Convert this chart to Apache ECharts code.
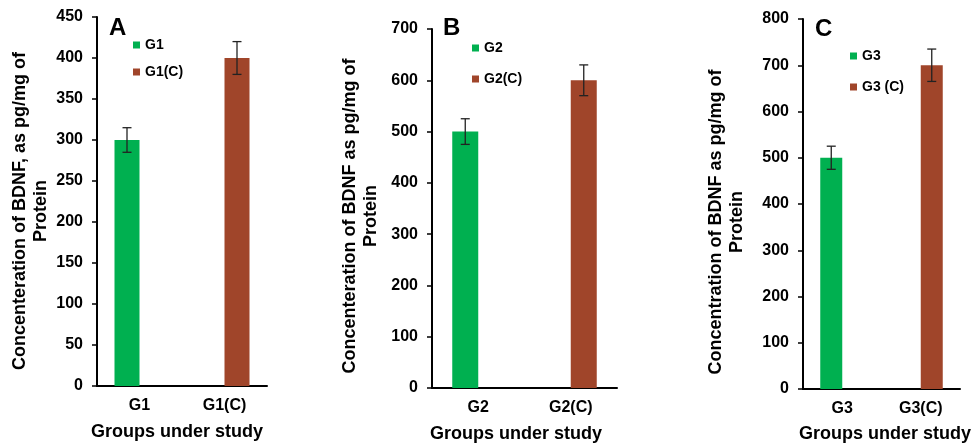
<!DOCTYPE html>
<html>
<head>
<meta charset="utf-8">
<script src="https://cdn.jsdelivr.net/npm/echarts@6/dist/echarts.min.js"></script>
<style>
  html, body { margin: 0; padding: 0; background: #fff; }
  #main { width: 973px; height: 446px; }
</style>
</head>
<body>
<div id="main"></div>
<script>
// data
const categoriesA = ["G1", "G1(C)"];
const categoriesB = ["G2", "G2(C)"];
const categoriesC = ["G3", "G3(C)"];
const legendA = ["G1", "G1(C)"];
const legendB = ["G2", "G2(C)"];
const legendC = ["G3", "G3 (C)"];
const valuesA = [300, 400];
const valuesB = [500, 600];
const valuesC = [500, 700];
const errorsA = [15, 20];
const errorsB = [25, 30];
const errorsC = [25, 35];
const yMaxes = [450, 700, 800];
const yIntervals = [50, 100, 100];
const yTitles = [
  "Concenteration of BDNF, as pg/mg of\nProtein",
  "Concenteration of BDNF as pg/mg of\nProtein",
  "Concentration of BDNF as pg/mg of\nProtein"
];
const xTitle = "Groups under study";
const panelLetters = ["A", "B", "C"];

const FONT = "Liberation Sans, Arial, sans-serif";
const colors = ["#00B050", "#A0452A"];

// layout of each panel (pixels)
const panels = [
  { cats: categoriesA, legend: legendA, vals: valuesA, errs: errorsA,
    grid: { left: 97, top: 17, width: 170, height: 369 }, barW: 25,
    yTitlePos: [31, 211], xTitlePos: [177, 432],
    legendPos: { left: 128, top: 33 }, legendGap: 13,
    letter: { x: 109, y: 20 } },
  { cats: categoriesB, legend: legendB, vals: valuesB, errs: errorsB,
    grid: { left: 432, top: 29, width: 185, height: 359 }, barW: 26,
    yTitlePos: [361, 216], xTitlePos: [516, 434],
    legendPos: { left: 467, top: 36 }, legendGap: 17,
    letter: { x: 443, y: 20 } },
  { cats: categoriesC, legend: legendC, vals: valuesC, errs: errorsC,
    grid: { left: 803, top: 19, width: 157, height: 370 }, barW: 22,
    yTitlePos: [727, 222], xTitlePos: [885, 434],
    legendPos: { left: 845, top: 44 }, legendGap: 17,
    letter: { x: 815, y: 21 } }
];

const chart = echarts.init(document.getElementById("main"));

let grids = [], xAxes = [], yAxes = [], series = [], legends = [], graphics = [];

panels.forEach((p, i) => {
  grids.push(Object.assign({ outerBoundsMode: "none", containLabel: false }, p.grid));
  xAxes.push({
    type: "category",
    gridIndex: i,
    data: p.cats,
    axisLine: { lineStyle: { color: "#000", width: 2 } },
    axisTick: { show: false },
    axisLabel: { fontFamily: FONT, fontSize: 16, fontWeight: "bold", color: "#000", margin: 12 }
  });
  yAxes.push({
    type: "value",
    gridIndex: i,
    min: 0,
    max: yMaxes[i],
    interval: yIntervals[i],
    axisLine: { show: true, lineStyle: { color: "#000", width: 2 } },
    axisTick: { show: true, length: 5, lineStyle: { color: "#000", width: 1.5 } },
    axisLabel: { fontFamily: FONT, fontSize: 16, fontWeight: "bold", color: "#000", margin: 14 },
    splitLine: { show: false }
  });

  // one bar series per group, each sitting in its own slot
  p.legend.forEach((name, k) => {
    series.push({
      name: name,
      type: "bar",
      xAxisIndex: i,
      yAxisIndex: i,
      barWidth: p.barW,
      barGap: "0%",
      itemStyle: { color: colors[k] },
      data: p.cats.map((c, j) => (j === k ? p.vals[j] : "-"))
    });
  });

  // error bars
  const barW = p.barW;
  series.push({
    type: "custom",
    xAxisIndex: i,
    yAxisIndex: i,
    silent: true,
    z: 5,
    data: p.vals.map((v, j) => [j, v, p.errs[j], j === 0 ? -1 : 1]),
    encode: { x: 0, y: 1 },
    renderItem: function (params, api) {
      const cat = api.value(0), v = api.value(1), e = api.value(2), side = api.value(3);
      const x = api.coord([cat, v])[0] + side * barW / 2;
      const yHi = api.coord([cat, v + e])[1];
      const yLo = api.coord([cat, v - e])[1];
      const st = { stroke: "#222", lineWidth: 1.3 };
      return {
        type: "group",
        children: [
          { type: "line", shape: { x1: x, y1: yHi, x2: x, y2: yLo }, style: st },
          { type: "line", shape: { x1: x - 4.5, y1: yHi, x2: x + 4.5, y2: yHi }, style: st },
          { type: "line", shape: { x1: x - 4.5, y1: yLo, x2: x + 4.5, y2: yLo }, style: st }
        ]
      };
    }
  });

  legends.push({
    data: p.legend,
    orient: "vertical",
    left: p.legendPos.left,
    top: p.legendPos.top,
    icon: "rect",
    itemWidth: 7,
    itemHeight: 7,
    itemGap: p.legendGap,
    selectedMode: false,
    textStyle: { fontFamily: FONT, fontSize: 14, fontWeight: "bold", color: "#000" }
  });

  // titles and panel letter
  graphics.push({
    type: "text",
    x: p.yTitlePos[0],
    y: p.yTitlePos[1],
    rotation: Math.PI / 2,
    style: {
      text: yTitles[i], font: "bold 18px " + FONT, fill: "#000",
      align: "center", verticalAlign: "middle", lineHeight: 21
    }
  });
  graphics.push({
    type: "text",
    x: p.xTitlePos[0],
    y: p.xTitlePos[1],
    style: {
      text: xTitle, font: "bold 18px " + FONT, fill: "#000",
      align: "center", verticalAlign: "middle"
    }
  });
  graphics.push({
    type: "text",
    left: p.letter.x,
    top: p.letter.y - 4,
    style: { text: panelLetters[i], font: "bold 24px " + FONT, fill: "#000" }
  });
});

chart.setOption({
  animation: false,
  grid: grids,
  xAxis: xAxes,
  yAxis: yAxes,
  legend: legends,
  graphic: graphics,
  series: series
});
</script>
</body>
</html>
